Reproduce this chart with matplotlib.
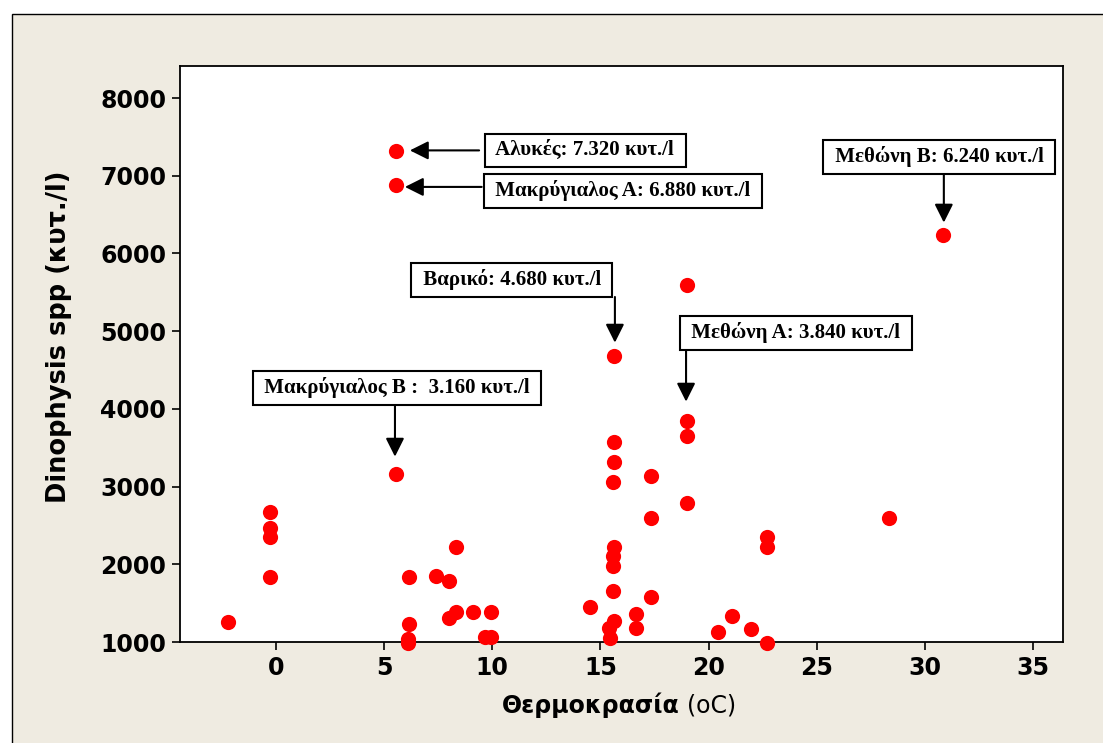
import matplotlib
matplotlib.use("Agg")
import matplotlib.pyplot as plt
from matplotlib.patches import Rectangle
from matplotlib.offsetbox import TextArea, HPacker, AnnotationBbox

# ---- data ----
temperature = [-2.2,
               -0.3, -0.3, -0.3, -0.3,
               5.55, 5.55, 5.55,
               6.15, 6.15, 6.1, 6.1,
               7.4, 8.0, 8.3, 8.0, 8.3, 9.1, 9.95, 9.65, 9.95,
               14.5,
               15.65, 15.65, 15.65, 15.6, 15.65, 15.6, 15.6, 15.6, 15.65, 15.4, 15.45,
               16.65, 16.65,
               17.35, 17.35, 17.35,
               19.0, 19.0, 19.0, 19.0,
               20.45, 21.1, 21.95, 22.7, 22.7, 22.7,
               28.35,
               30.85]
dinophysis = [1260,
              2670, 2470, 2350, 1830,
              7320, 6880, 3160,
              1830, 1235, 1035, 990,
              1850, 1780, 2225, 1315, 1385, 1385, 1385, 1065, 1065,
              1455,
              4680, 3570, 3315, 3065, 2225, 2105, 1975, 1655, 1265, 1185, 1055,
              1365, 1185,
              3135, 2595, 1585,
              5595, 3840, 3655, 2795,
              1135, 1335, 1165, 2355, 2225, 990,
              2600,
              6240]

x_ticks = [0, 5, 10, 15, 20, 25, 30, 35]
y_ticks = [1000, 2000, 3000, 4000, 5000, 6000, 7000, 8000]

# annotation labels, box centres and arrow (start, tip) in data coords
ann_labels = ["Αλυκές: 7.320 κυτ./l",
              "Μακρύγιαλος Α: 6.880 κυτ./l",
              "Μακρύγιαλος Β :  3.160 κυτ./l",
              "Βαρικό: 4.680 κυτ./l",
              "Μεθώνη Α: 3.840 κυτ./l",
              "Μεθώνη Β: 6.240 κυτ./l"]
ann_box = [(14.31, 7326), (16.04, 6804), (5.58, 4269), (10.91, 5659), (24.04, 4977), (30.67, 7242)]
ann_start = [(9.39, 7326), (9.51, 6856), (5.50, 4063), (15.67, 5440), (18.96, 4767), (30.88, 7040)]
ann_tip = [(6.19, 7326), (5.96, 6856), (5.50, 3385), (15.67, 4852), (18.96, 4093), (30.88, 6397)]

W, H = 1103, 743
fig = plt.figure(figsize=(W / 100, H / 100), dpi=100)
fig.patch.set_facecolor("white")
fig.patches.append(Rectangle((12 / W, -0.1), 1.1, 1.1 - 14 / H,
                             transform=fig.transFigure, facecolor="#EFEBE1",
                             edgecolor="black", lw=1.0, zorder=-10))

ax = fig.add_axes([180 / W, 1 - 642 / H, (1063 - 180) / W, (642 - 66) / H])
ax.set_facecolor("white")
ax.scatter(temperature, dinophysis, s=120, color="#FF0000", zorder=3,
           clip_on=False, linewidths=0)
ax.set_xlim(-4.44, 36.39)
ax.set_ylim(1000, 8412)
ax.set_xticks(x_ticks)
ax.set_yticks(y_ticks)
for sp in ax.spines.values():
    sp.set_linewidth(1.3)
    sp.set_color("black")
ax.tick_params(direction="out", length=6, width=1.2, labelsize=17, pad=4)
for lab in ax.get_xticklabels() + ax.get_yticklabels():
    lab.set_fontweight("bold")

# y label
fig.text(59 / W, 1 - 337 / H, "Dinophysis spp (κυτ./l)", rotation=90,
         fontsize=18.5, fontweight="bold", ha="center", va="center")
# x label with bold + normal parts
t1 = TextArea("Θερμοκρασία", textprops=dict(fontsize=17, fontweight="bold"))
t2 = TextArea("(oC)", textprops=dict(fontsize=17))
pack = HPacker(children=[t1, t2], pad=0, sep=5, align="baseline")
ab = AnnotationBbox(pack, (619 / W, 1 - 705 / H), xycoords="figure fraction",
                    frameon=False, box_alignment=(0.5, 0.5))
fig.add_artist(ab)

for lab, bc, st, tp in zip(ann_labels, ann_box, ann_start, ann_tip):
    ax.text(bc[0], bc[1], " " + lab + " ", family="Liberation Serif",
            fontweight="bold", fontsize=15, ha="center", va="center", zorder=5,
            bbox=dict(boxstyle="square,pad=0.3", facecolor="white",
                      edgecolor="black", lw=1.5))
    ax.annotate("", xy=tp, xytext=st, zorder=4,
                arrowprops=dict(arrowstyle="-|>", mutation_scale=28,
                                color="black", lw=1.5, shrinkA=0, shrinkB=0))

fig.savefig("out.png", dpi=100, facecolor=fig.get_facecolor())
